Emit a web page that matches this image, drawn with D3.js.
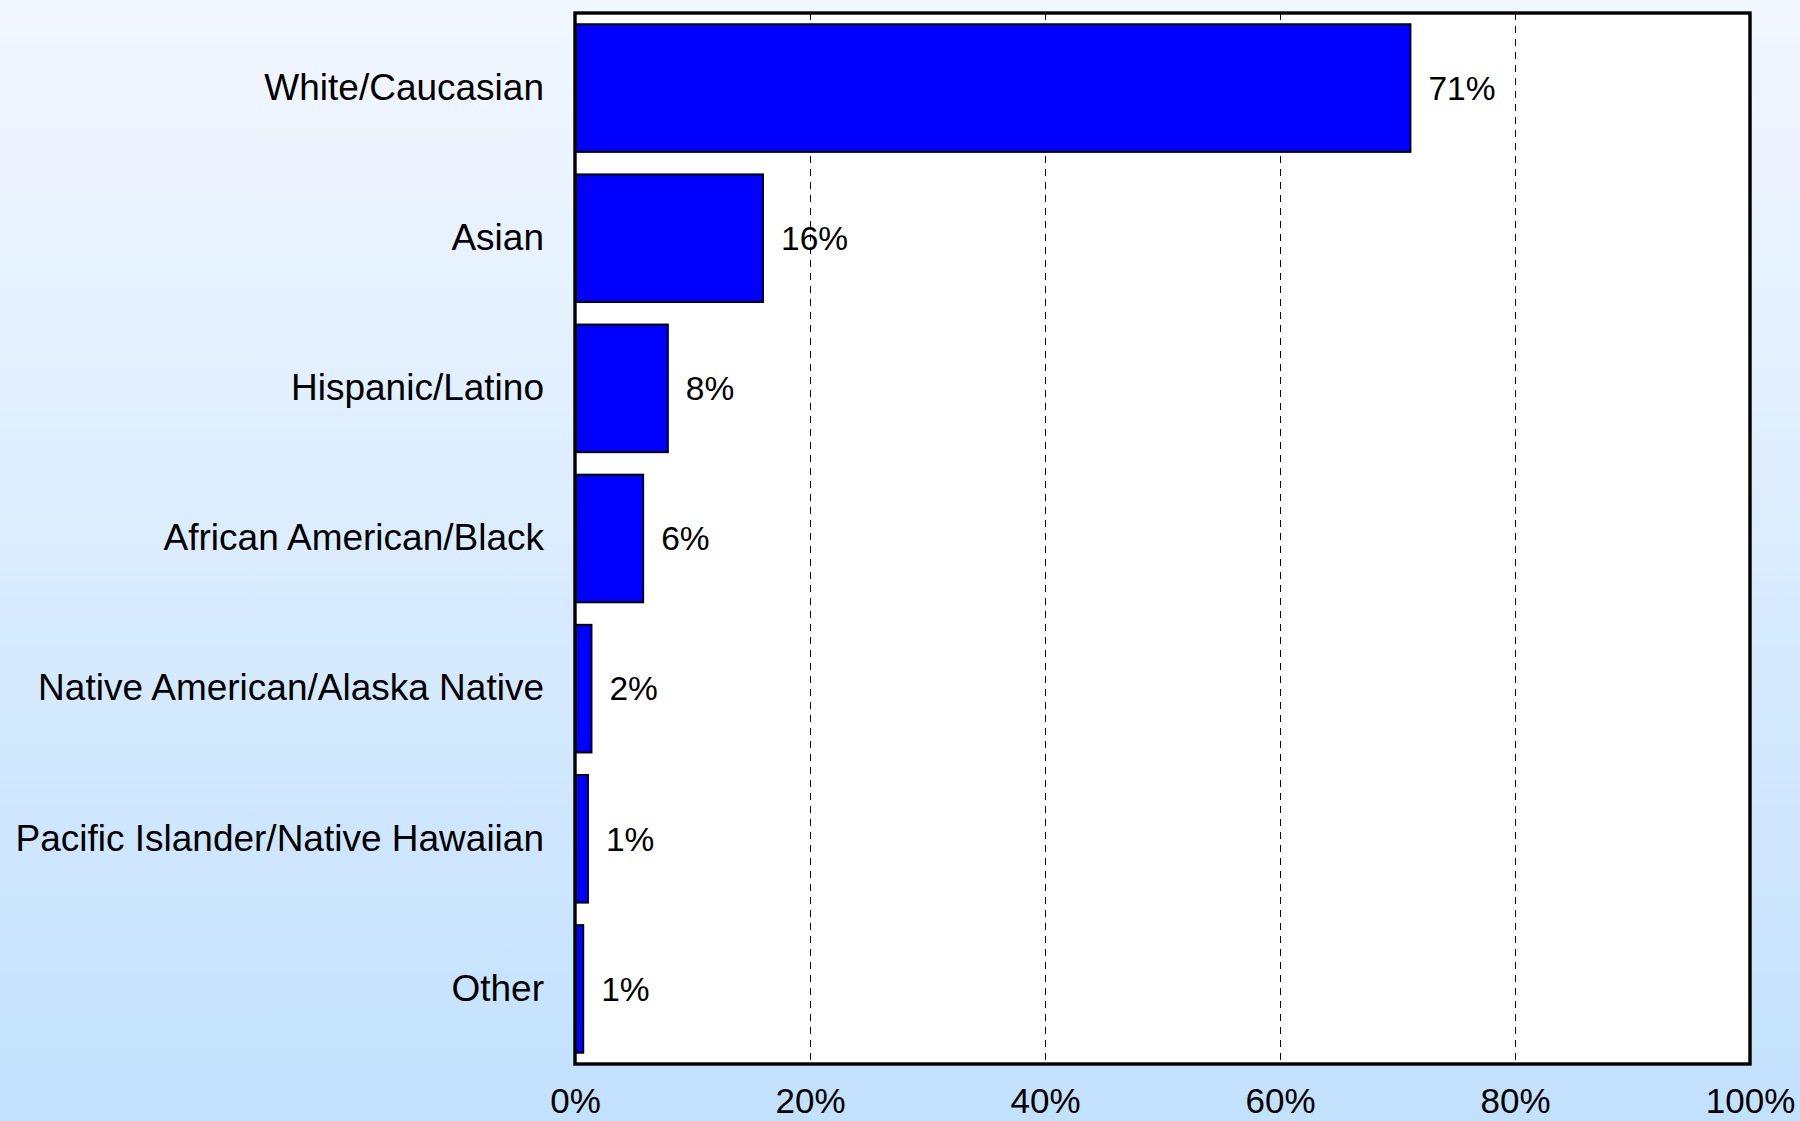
<!DOCTYPE html>
<html>
<head>
<meta charset="utf-8">
<script src="https://cdn.jsdelivr.net/npm/d3@7"></script>
<style>
  body { margin: 0; padding: 0; overflow: hidden; }
  svg { display: block; }
</style>
</head>
<body>
<div id="chart"></div>
<script>
// data
var categories = ["White/Caucasian", "Asian", "Hispanic/Latino", "African American/Black",
    "Native American/Alaska Native", "Pacific Islander/Native Hawaiian", "Other"];
var values = [71.1, 16.0, 7.9, 5.8, 1.4, 1.1, 0.7];
var valueLabels = ["71%", "16%", "8%", "6%", "2%", "1%", "1%"];
var tickValues = [0, 20, 40, 60, 80, 100];

var totalW = 1800, totalH = 1121;
var margin = { top: 13, right: 50, bottom: 57, left: 575 },
    width = totalW - margin.left - margin.right,
    height = totalH - margin.top - margin.bottom;

var rows = categories.map(function (c, i) {
    return { cat: c, val: values[i], label: valueLabels[i] };
});

var svg = d3.select("#chart").append("svg")
    .attr("width", totalW)
    .attr("height", totalH)
    .style("font-family", "'Liberation Sans', Arial, sans-serif");

// background gradient
var grad = svg.append("defs").append("linearGradient")
    .attr("id", "bg")
    .attr("x1", 0).attr("y1", 0).attr("x2", 0).attr("y2", 1);
grad.append("stop").attr("offset", "0%").attr("stop-color", "#f2f7ff");
grad.append("stop").attr("offset", "100%").attr("stop-color", "#c2e1fd");

svg.append("rect")
    .attr("width", totalW)
    .attr("height", totalH)
    .attr("fill", "url(#bg)");

var g = svg.append("g")
    .attr("transform", "translate(" + margin.left + "," + margin.top + ")");

var x = d3.scaleLinear()
    .domain([0, 100])
    .range([0, width]);

var y = d3.scaleBand()
    .domain(categories)
    .range([0, height])
    .paddingInner(0.15)
    .paddingOuter(0.075);

// plot background
g.append("rect")
    .attr("width", width)
    .attr("height", height)
    .attr("fill", "#fff");

// dashed grid lines (half pixel offset keeps them crisp)
g.selectAll(".grid")
    .data(tickValues.slice(1, -1))
    .enter().append("line")
    .attr("class", "grid")
    .attr("x1", function (d) { return Math.round(x(d)) + 0.5; })
    .attr("x2", function (d) { return Math.round(x(d)) + 0.5; })
    .attr("y1", 0)
    .attr("y2", height)
    .attr("stroke", "#000")
    .attr("stroke-width", 1)
    .attr("stroke-dasharray", "7,6");

// bars
g.selectAll(".bar")
    .data(rows)
    .enter().append("rect")
    .attr("class", "bar")
    .attr("x", x(0))
    .attr("y", function (d) { return y(d.cat); })
    .attr("width", function (d) { return x(d.val) - x(0); })
    .attr("height", y.bandwidth())
    .attr("fill", "#0000ff")
    .attr("stroke", "#000")
    .attr("stroke-width", 2);

// value labels
g.selectAll(".val")
    .data(rows)
    .enter().append("text")
    .attr("class", "val")
    .attr("x", function (d) { return x(d.val) + 18; })
    .attr("y", function (d) { return y(d.cat) + y.bandwidth() / 2; })
    .attr("dy", "0.35em")
    .attr("font-size", 33.5)
    .attr("fill", "#000")
    .text(function (d) { return d.label; });

// frame
g.append("rect")
    .attr("width", width)
    .attr("height", height)
    .attr("fill", "none")
    .attr("stroke", "#000")
    .attr("stroke-width", 3.4);

// y axis (category labels)
var yAxis = g.append("g")
    .call(d3.axisLeft(y).tickSize(0).tickPadding(31));
yAxis.select(".domain").remove();
yAxis.selectAll("text")
    .attr("font-size", 37)
    .attr("fill", "#000");

// x axis
var xAxis = g.append("g")
    .attr("transform", "translate(0," + height + ")")
    .call(d3.axisBottom(x).tickValues(tickValues).tickSize(0).tickPadding(24)
        .tickFormat(function (d) { return d + "%"; }));
xAxis.select(".domain").remove();
xAxis.selectAll("text")
    .attr("font-size", 35)
    .attr("fill", "#000");
</script>
</body>
</html>
